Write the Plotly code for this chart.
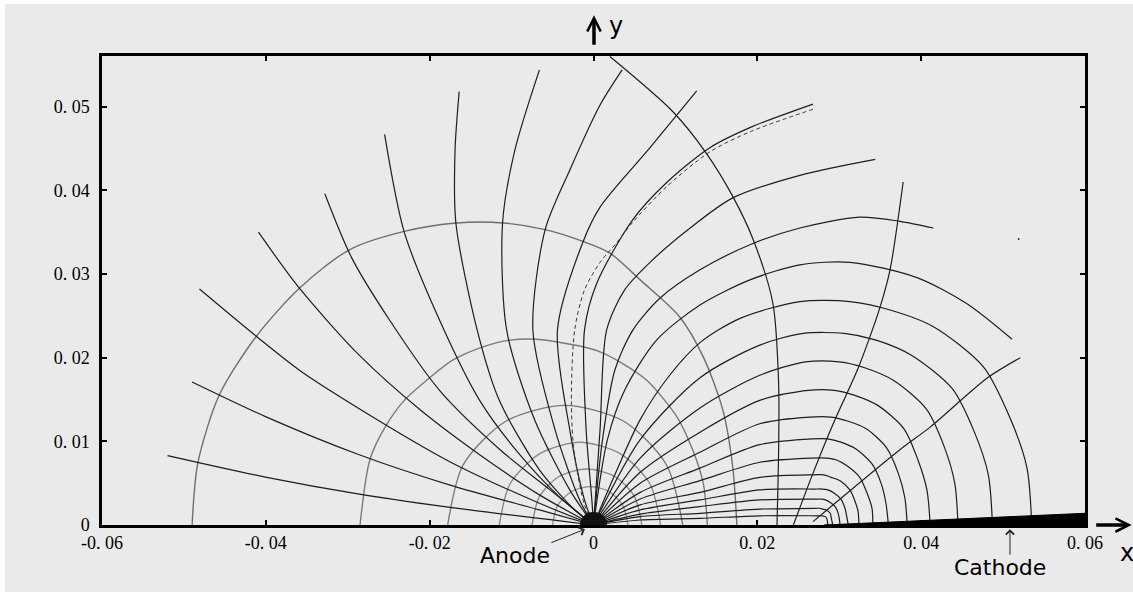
import plotly.graph_objects as go

# ---------------- data (data units) ----------------
x_ticks = [-0.06, -0.04, -0.02, 0.0, 0.02, 0.04, 0.06]
x_tick_text = ["-0. 06", "-0. 04", "-0. 02", "0", "0. 02", "0. 04", "0. 06"]
y_ticks = [0.0, 0.01, 0.02, 0.03, 0.04, 0.05]
y_tick_text = ["0", "0. 01", "0. 02", "0. 03", "0. 04", "0. 05"]

# field lines leaving the anode
fl01_x = [-0.0520, -0.0399, -0.0286, -0.0151, -0.0041, 0]
fl01_y = [0.0083, 0.0057, 0.0037, 0.0018, 0.0005, 0]
fl02_x = [-0.0490, -0.0399, -0.0286, -0.0176, -0.0066, 0]
fl02_y = [0.0171, 0.0129, 0.0084, 0.0048, 0.0018, 0]
fl03_x = [-0.0481, -0.0411, -0.0359, -0.0286, -0.0176, -0.0066, 0]
fl03_y = [0.0282, 0.0225, 0.0185, 0.0139, 0.0076, 0.0026, 0]
fl04_x = [-0.0409, -0.0359, -0.0286, -0.0212, -0.0139, -0.0066, 0]
fl04_y = [0.0350, 0.0283, 0.0203, 0.0138, 0.0084, 0.0036, 0]
fl05_x = [-0.0328, -0.0295, -0.0249, -0.0188, -0.0114, -0.0053, 0]
fl05_y = [0.0396, 0.0319, 0.0245, 0.0161, 0.0090, 0.0042, 0]
fl06_x = [-0.0255, -0.0231, -0.0188, -0.0139, -0.0090, -0.0041, 0]
fl06_y = [0.0467, 0.0350, 0.0245, 0.0149, 0.0084, 0.0033, 0]
fl07_x = [-0.0164, -0.0169, -0.0168, -0.0142, -0.0115, -0.0066, -0.0023, 0]
fl07_y = [0.0518, 0.0448, 0.0361, 0.0233, 0.0149, 0.0066, 0.0018, 0]
fl08_x = [-0.0066, -0.0096, -0.0111, -0.0106, -0.0072, -0.0029, 0]
fl08_y = [0.0544, 0.0448, 0.0361, 0.0233, 0.0126, 0.0042, 0]
fl09_x = [0.0035, 0.0008, -0.0029, -0.0059, -0.0074, -0.0047, -0.0017, 0]
fl09_y = [0.0544, 0.0502, 0.0424, 0.0353, 0.0233, 0.0114, 0.0030, 0]
fl10_x = [0.0126, 0.0069, 0.0008, -0.0013, -0.0044, -0.0029, -0.0011, 0]
fl10_y = [0.0519, 0.0451, 0.0380, 0.0338, 0.0233, 0.0114, 0.0030, 0]
fl11_x = [0.0268, 0.0191, 0.0142, 0.0090, 0.0048, 0.0004, -0.0011, -0.0009, -0.0002, 0]
fl11_y = [0.0503, 0.0475, 0.0451, 0.0410, 0.0365, 0.0289, 0.0233, 0.0114, 0.0030, 0]
fl12_x = [0.0344, 0.0252, 0.0170, 0.0118, 0.0069, 0.0038, 0.0016, 0.0008, 0]
fl12_y = [0.0437, 0.0418, 0.0391, 0.0355, 0.0314, 0.0281, 0.0233, 0.0114, 0]
fl13_x = [0.0415, 0.0374, 0.0325, 0.0252, 0.0191, 0.0130, 0.0081, 0.0048, 0.0026, 0.0011, 0]
fl13_y = [0.0355, 0.0363, 0.0368, 0.0355, 0.0335, 0.0305, 0.0271, 0.0233, 0.0185, 0.0102, 0]
fl14_x = [0.0511, 0.0455, 0.0394, 0.0313, 0.0252, 0.0191, 0.0130, 0.0077, 0.0038, 0.0017, 0]
fl14_y = [0.0222, 0.0265, 0.0296, 0.0314, 0.0311, 0.0293, 0.0263, 0.0221, 0.0161, 0.0102, 0]
fl15_x = [0, 0.0026, 0.0057, 0.0093, 0.0130, 0.0179, 0.0252, 0.0313, 0.0362, 0.0415, 0.0476, 0.0508, 0.0529, 0.0535]
fl15_y = [0, 0.0060, 0.0126, 0.0179, 0.0218, 0.0247, 0.0267, 0.0267, 0.0257, 0.0237, 0.0189, 0.0129, 0.0069, 0]
fl16_x = [0, 0.0057, 0.0130, 0.0203, 0.0256, 0.0306, 0.0345, 0.0388, 0.0438, 0.0465, 0.0482, 0.0487]
fl16_y = [0, 0.0102, 0.0176, 0.0215, 0.0229, 0.0229, 0.0221, 0.0203, 0.0163, 0.0111, 0.0060, 0]
fl17_x = [0, 0.0057, 0.0130, 0.0203, 0.0259, 0.0300, 0.0331, 0.0366, 0.0406, 0.0428, 0.0441, 0.0445]
fl17_y = [0, 0.0080, 0.0140, 0.0179, 0.0195, 0.0195, 0.0188, 0.0173, 0.0139, 0.0094, 0.0050, 0]
fl18_x = [0, 0.0057, 0.0130, 0.0203, 0.0262, 0.0294, 0.0319, 0.0347, 0.0379, 0.0396, 0.0407, 0.0411]
fl18_y = [0, 0.0063, 0.0111, 0.0149, 0.0161, 0.0161, 0.0155, 0.0143, 0.0115, 0.0078, 0.0042, 0]
fl19_x = [0, 0.0057, 0.0130, 0.0203, 0.0264, 0.0290, 0.0311, 0.0333, 0.0358, 0.0372, 0.0380, 0.0383]
fl19_y = [0, 0.0050, 0.0087, 0.0121, 0.0129, 0.0129, 0.0124, 0.0115, 0.0092, 0.0062, 0.0033, 0]
fl20_x = [0, 0.0057, 0.0130, 0.0203, 0.0267, 0.0286, 0.0302, 0.0320, 0.0340, 0.0351, 0.0357, 0.0360]
fl20_y = [0, 0.0039, 0.0068, 0.0096, 0.0103, 0.0103, 0.0099, 0.0091, 0.0073, 0.0050, 0.0026, 0]
fl21_x = [0, 0.0057, 0.0130, 0.0203, 0.0268, 0.0284, 0.0296, 0.0309, 0.0325, 0.0334, 0.0340, 0.0341]
fl21_y = [0, 0.0031, 0.0053, 0.0075, 0.0080, 0.0080, 0.0078, 0.0071, 0.0057, 0.0038, 0.0020, 0]
fl22_x = [0, 0.0057, 0.0130, 0.0203, 0.0269, 0.0281, 0.0290, 0.0301, 0.0313, 0.0319, 0.0323, 0.0324]
fl22_y = [0, 0.0024, 0.0039, 0.0057, 0.0060, 0.0060, 0.0057, 0.0053, 0.0042, 0.0029, 0.0016, 0]
fl23_x = [0, 0.0057, 0.0130, 0.0203, 0.0270, 0.0279, 0.0286, 0.0294, 0.0302, 0.0307, 0.0309, 0.0311]
fl23_y = [0, 0.0018, 0.0030, 0.0042, 0.0043, 0.0043, 0.0042, 0.0038, 0.0031, 0.0020, 0.0011, 0]
fl24_x = [0, 0.0057, 0.0130, 0.0203, 0.0272, 0.0278, 0.0283, 0.0289, 0.0295, 0.0298, 0.0300, 0.0301]
fl24_y = [0, 0.0013, 0.0022, 0.0030, 0.0031, 0.0031, 0.0030, 0.0027, 0.0022, 0.0016, 0.0008, 0]
fl25_x = [0, 0.0057, 0.0130, 0.0203, 0.0273, 0.0276, 0.0280, 0.0284, 0.0289, 0.0290, 0.0292]
fl25_y = [0, 0.0010, 0.0014, 0.0019, 0.0020, 0.0020, 0.0019, 0.0018, 0.0014, 0.0010, 0]
fl26_x = [0, 0.0057, 0.0130, 0.0203, 0.0274, 0.0279, 0.0283, 0.0285, 0.0286]
fl26_y = [0, 0.0006, 0.0008, 0.0011, 0.0011, 0.0011, 0.0010, 0.0007, 0]

# dashed comparison line
dash_x = [0.0268, 0.0191, 0.0142, 0.0090, 0.0048, 0.0028, 0.0008, -0.0011, -0.0023, -0.0027, -0.0024, -0.0011, 0]
dash_y = [0.0497, 0.0470, 0.0446, 0.0405, 0.0362, 0.0337, 0.0314, 0.0281, 0.0233, 0.0149, 0.0090, 0.0024, 0]

# grey equipotentials around the anode
eq0_x = [-0.0490, -0.0483, -0.0457, -0.0412, -0.0359, -0.0298, -0.0231, -0.0167, -0.0110, -0.0059, -0.0013, 0.0020, 0.0057, 0.0105, 0.0134, 0.0158, 0.0170, 0.0175]
eq0_y = [0, 0.0074, 0.0155, 0.0225, 0.0283, 0.0329, 0.0351, 0.0361, 0.0361, 0.0353, 0.0339, 0.0325, 0.0293, 0.0249, 0.0201, 0.0137, 0.0069, 0]
eq1_x = [-0.0285, -0.0273, -0.0255, -0.0231, -0.0200, -0.0172, -0.0135, -0.0102, -0.0069, -0.0013, 0.0008, 0.0032, 0.0065, 0.0102, 0.0121, 0.0134, 0.0139]
eq1_y = [0, 0.0078, 0.0116, 0.0149, 0.0176, 0.0197, 0.0213, 0.0221, 0.0222, 0.0213, 0.0207, 0.0195, 0.0173, 0.0129, 0.0090, 0.0050, 0]
eq2_x = [-0.0178, -0.0159, -0.0107, -0.0035, 0.0037, 0.0089, 0.0109]
eq2_y = [0, 0.0072, 0.0124, 0.0143, 0.0124, 0.0072, 0]
eq3_x = [-0.0115, -0.0102, -0.0066, -0.0017, 0.0033, 0.0069, 0.0082]
eq3_y = [0, 0.0049, 0.0085, 0.0099, 0.0085, 0.0049, 0]
eq4_x = [-0.0075, -0.0066, -0.0042, -0.0008, 0.0026, 0.0050, 0.0059]
eq4_y = [0, 0.0034, 0.0058, 0.0067, 0.0058, 0.0034, 0]
eq5_x = [-0.0050, -0.0044, -0.0027, -0.0004, 0.0019, 0.0036, 0.0042]
eq5_y = [0, 0.0023, 0.0040, 0.0046, 0.0040, 0.0023, 0]

# dark curves on the cathode side
dk1_x = [0.0020, 0.0097, 0.0138, 0.0171, 0.0195, 0.0219, 0.0226, 0.0226, 0.0224]
dk1_y = [0.0560, 0.0494, 0.0444, 0.0391, 0.0341, 0.0265, 0.0169, 0.0090, 0]
dk2_x = [0.0244, 0.0268, 0.0293, 0.0322, 0.0336, 0.0350, 0.0362, 0.0378]
dk2_y = [0, 0.0062, 0.0122, 0.0185, 0.0221, 0.0261, 0.0305, 0.0410]
dk3_x = [0.0268, 0.0374, 0.0411, 0.0481, 0.0521]
dk3_y = [0.0004, 0.0090, 0.0117, 0.0176, 0.0200]

# stray speck visible in the picture
speck_x = [0.0519]
speck_y = [0.0342]

# electrodes
cathode_x = [0.0282, 0.06]
cathode_top = [0.0001, 0.0014]
anode_half_width = 0.0016
anode_height = 0.0015

# ---------------- figure ----------------
fig = go.Figure()

def add_line(xs, ys, color, width, dash="solid"):
    fig.add_trace(go.Scatter(x=xs, y=ys, mode="lines", hoverinfo="skip",
                             line=dict(color=color, width=width, dash=dash,
                                       shape="spline", smoothing=0.8)))

for ex, ey, col in [(eq0_x, eq0_y, "#6e6e6e"), (eq1_x, eq1_y, "#7a7a7a"),
                    (eq2_x, eq2_y, "#7a7a7a"), (eq3_x, eq3_y, "#8a8a8a"),
                    (eq4_x, eq4_y, "#8a8a8a"), (eq5_x, eq5_y, "#959595")]:
    add_line(ex, ey, col, 1.4)

field = [(fl01_x, fl01_y), (fl02_x, fl02_y), (fl03_x, fl03_y), (fl04_x, fl04_y),
         (fl05_x, fl05_y), (fl06_x, fl06_y), (fl07_x, fl07_y), (fl08_x, fl08_y),
         (fl09_x, fl09_y), (fl10_x, fl10_y), (fl11_x, fl11_y), (fl12_x, fl12_y),
         (fl13_x, fl13_y), (fl14_x, fl14_y), (fl15_x, fl15_y), (fl16_x, fl16_y),
         (fl17_x, fl17_y), (fl18_x, fl18_y), (fl19_x, fl19_y), (fl20_x, fl20_y),
         (fl21_x, fl21_y), (fl22_x, fl22_y), (fl23_x, fl23_y), (fl24_x, fl24_y),
         (fl25_x, fl25_y), (fl26_x, fl26_y)]
for fx, fy in field:
    add_line(fx, fy, "#1e1e1e", 1.2)

add_line(dash_x, dash_y, "#3a3a3a", 1.0, dash="4px,3px")
add_line(dk1_x, dk1_y, "#1e1e1e", 1.2)
add_line(dk2_x, dk2_y, "#1e1e1e", 1.2)
add_line(dk3_x, dk3_y, "#1e1e1e", 1.2)

fig.add_trace(go.Scatter(x=speck_x, y=speck_y, mode="markers", hoverinfo="skip",
                         marker=dict(color="#333333", size=2)))

# cathode wedge
fig.add_trace(go.Scatter(x=[cathode_x[0], cathode_x[1], cathode_x[1], cathode_x[0]],
                         y=[0, cathode_top[1], 0, 0], mode="lines", fill="toself",
                         fillcolor="black", line=dict(color="black", width=1),
                         hoverinfo="skip"))

# anode blob
w, h = anode_half_width, anode_height
fig.add_shape(type="path", xref="x", yref="y", layer="above",
              path=f"M {-w} 0 C {-w} {h*4/3} {w} {h*4/3} {w} 0 Z",
              fillcolor="#111111", line=dict(color="#111111", width=1))

tickfont = dict(family="Liberation Serif", size=18, color="black")
fig.update_xaxes(range=[-0.06, 0.06], tickvals=x_ticks, ticktext=x_tick_text,
                 ticks="inside", ticklen=5, tickwidth=2, tickcolor="black",
                 showline=True, linewidth=2.5, linecolor="black", mirror="ticks",
                 showgrid=False, zeroline=False, tickfont=tickfont)
fig.update_yaxes(range=[0, 0.05606], tickvals=y_ticks, ticktext=y_tick_text,
                 ticks="inside", ticklen=5, tickwidth=2, tickcolor="black",
                 showline=True, linewidth=2.5, linecolor="black", mirror="ticks",
                 showgrid=False, zeroline=False, tickfont=tickfont,
                 ticklabelstandoff=6)

label_font = dict(family="DejaVu Sans", size=22, color="black")
axis_font = dict(family="DejaVu Sans", size=24, color="black")
annotations = [
    # y axis arrow and label
    dict(x=0.5005, y=1.087, xref="paper", yref="paper", ax=0, ay=31, text="",
         showarrow=True, arrowhead=5, arrowwidth=3.5, arrowsize=0.75, arrowcolor="black"),
    dict(x=0.5225, y=1.064, xref="paper", yref="paper", text="y", showarrow=False,
         xanchor="center", yanchor="middle", font=axis_font),
    # x axis arrow and label
    dict(x=1.0475, y=0, xref="paper", yref="paper", ax=-37, ay=0, text="",
         showarrow=True, arrowhead=5, arrowwidth=3.5, arrowsize=0.75, arrowcolor="black"),
    dict(x=1.0427, y=-0.060, xref="paper", yref="paper", text="x", showarrow=False,
         xanchor="center", yanchor="middle", font=axis_font),
    # electrode labels
    dict(x=0.420, y=-0.064, xref="paper", yref="paper", text="Anode", showarrow=False,
         xanchor="center", yanchor="middle", font=label_font),
    dict(x=0.4913, y=-0.009, xref="paper", yref="paper", ax=-35, ay=14, text="",
         showarrow=True, arrowhead=4, arrowwidth=1, arrowsize=1.6, arrowcolor="#222222"),
    dict(x=0.9135, y=-0.090, xref="paper", yref="paper", text="Cathode", showarrow=False,
         xanchor="center", yanchor="middle", font=label_font),
    dict(x=0.9237, y=-0.009, xref="paper", yref="paper", ax=0, ay=27, text="",
         showarrow=True, arrowhead=4, arrowwidth=1, arrowsize=1.6, arrowcolor="#222222"),
]

fig.update_layout(width=1128, height=588, margin=dict(l=97, r=48, t=52, b=67),
                  paper_bgcolor="#eaeaea", plot_bgcolor="#eaeaea",
                  showlegend=False, annotations=annotations)

fig.write_html("out.html", post_script="document.body.style.margin='4px 0 0 5px';")
